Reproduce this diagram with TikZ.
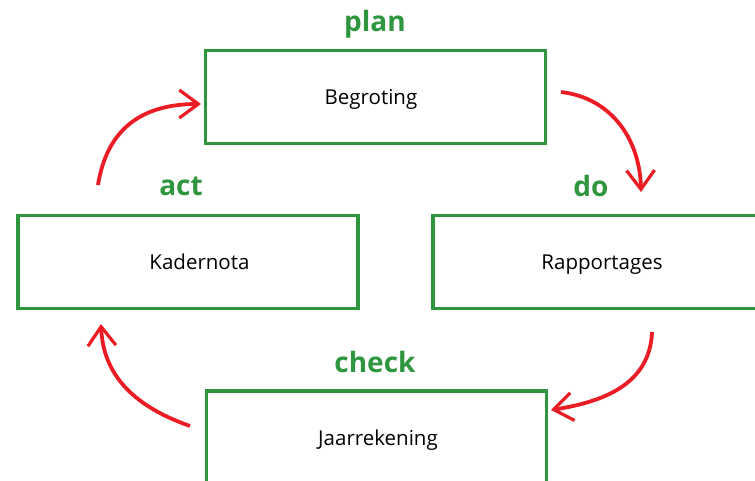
\documentclass[tikz,border=0pt]{standalone}
\usepackage{fontspec}
\setmainfont{Open Sans}
\usetikzlibrary{calc}
\usetikzlibrary{arrows.meta}
\definecolor{pdcagreen}{RGB}{46,150,62}
\definecolor{pdcared}{RGB}{236,28,36}
\tikzset{
	stagebox/.style={draw=pdcagreen, line width=3.4pt, minimum width=340pt,
		minimum height=93pt, inner sep=0pt, text depth=0pt,
		font=\fontsize{20.5}{22}\selectfont},
	stagelabel/.style={text=pdcagreen, font=\fontsize{28}{30}\selectfont\bfseries},
	cyclearrow/.style={draw=pdcared, line width=3.8pt,
		-{Straight Barb[length=19pt,width=28pt,line width=3.2pt]}}
}

\begin{document}
\begin{tikzpicture}[x=1pt,y=-1pt]
		\useasboundingbox (0,0) rectangle (755,481);
		\clip (0,0) rectangle (755,481);
%		stages
		\node[stagebox] (begroting) at (375.5,97) {\hspace*{-9pt}Begroting};
		\node[stagebox] (kadernota) at (188,262) {\hspace*{23pt}Kadernota};
		\node[stagebox, minimum width=338pt] (rapportages) at (602,262) {Rapportages};
		\node[stagebox] (jaarrekening) at (376.5,437.5) {\hspace*{3pt}Jaarrekening};
%		labels
		\node[stagelabel] (plan) at (375,24) {plan};
		\node[stagelabel] (act) at (181,186) {act};
		\node[stagelabel] (do) at (591,186) {do};
		\node[stagelabel] (check) at (375,362) {check};
%		arrow ends
		\coordinate (p1) at (561,92);
		\coordinate (p2) at (641,192);
		\coordinate (d1) at (652,332);
		\coordinate (d2) at (551,410);
		\coordinate (c1) at (190,426);
		\coordinate (c2) at (101,324);
		\coordinate (a1) at (98,185);
		\coordinate (a2) at (201,104);
%		cycle
		\draw[cyclearrow] (p1) .. controls (612,98) and (640,140) .. (p2);
		\draw[cyclearrow] (d1) .. controls (650,385) and (602,402) .. (d2);
		\draw[cyclearrow] (c1) .. controls (130,405) and (103,372) .. (c2);
		\draw[cyclearrow] (a1) .. controls (108,122) and (150,104) .. (a2);
	\end{tikzpicture}
\end{document}
